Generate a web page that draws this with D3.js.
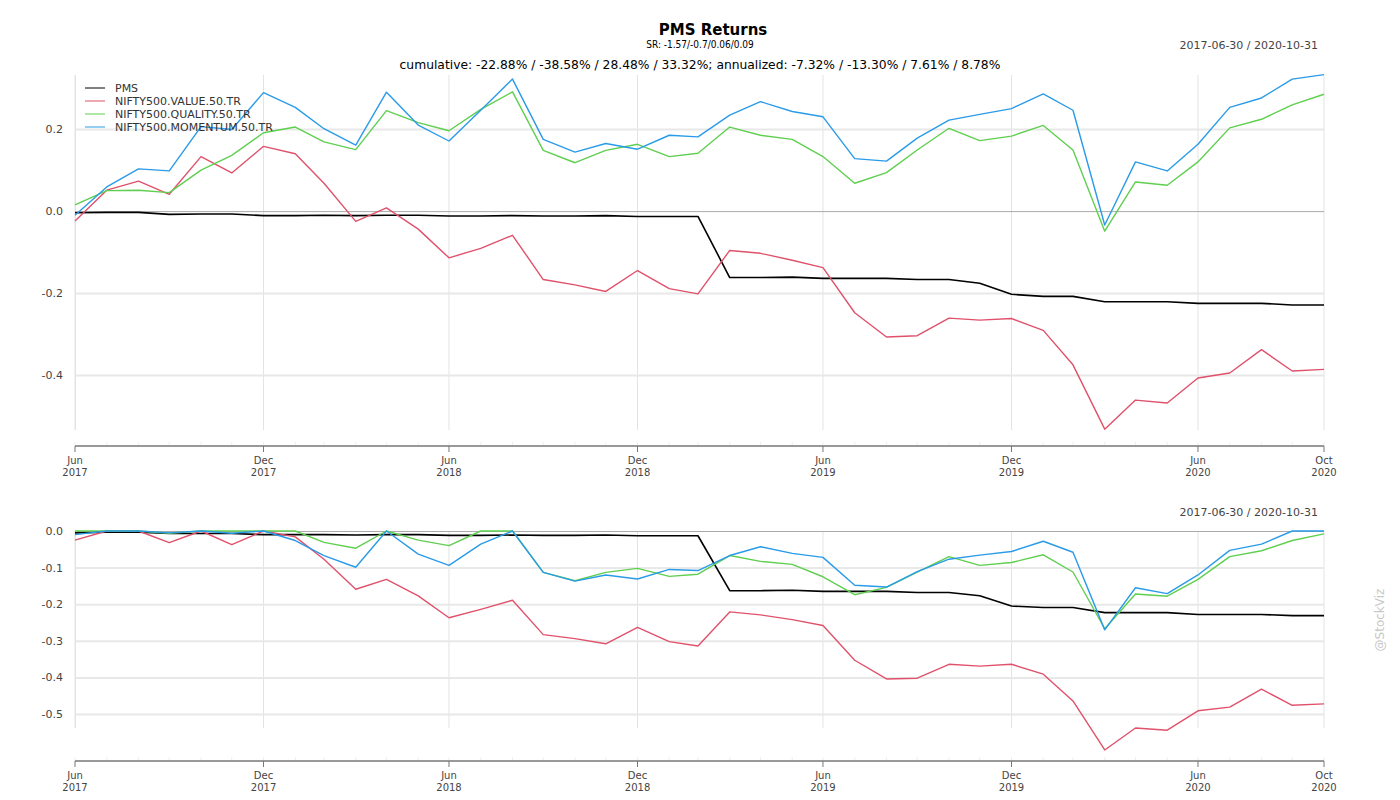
<!DOCTYPE html>
<html>
<head>
<meta charset="utf-8">
<script src="https://cdn.jsdelivr.net/npm/d3@7"></script>
<style>
  body { margin: 0; background: #fff; }
  text { font-family: "DejaVu Sans", sans-serif; }
</style>
</head>
<body>
<div id="chart"></div>
<script>
// month-end observation dates
const dates = [
  "2017-06-30", "2017-07-31", "2017-08-31", "2017-09-30", "2017-10-31", "2017-11-30", "2017-12-31",
  "2018-01-31", "2018-02-28", "2018-03-31", "2018-04-30", "2018-05-31", "2018-06-30", "2018-07-31",
  "2018-08-31", "2018-09-30", "2018-10-31", "2018-11-30", "2018-12-31", "2019-01-31", "2019-02-28",
  "2019-03-31", "2019-04-30", "2019-05-31", "2019-06-30", "2019-07-31", "2019-08-31", "2019-09-30",
  "2019-10-31", "2019-11-30", "2019-12-31", "2020-01-31", "2020-02-29", "2020-03-31", "2020-04-30",
  "2020-05-31", "2020-06-30", "2020-07-31", "2020-08-31", "2020-09-30", "2020-10-31"
];
const seriesNames = ["PMS", "NIFTY500.VALUE.50.TR", "NIFTY500.QUALITY.50.TR", "NIFTY500.MOMENTUM.50.TR"];
const seriesColors = ["#000000", "#e0516b", "#5fcf4f", "#2a9be8"];

// cumulative returns (top panel)
const pmsCum = [-0.004, -0.003, -0.003, -0.008, -0.007, -0.007, -0.011, -0.011, -0.01, -0.011, -0.01, -0.01, -0.012, -0.012, -0.011, -0.012, -0.012, -0.011, -0.013, -0.013, -0.013,
  -0.162, -0.162, -0.161, -0.164, -0.164, -0.164, -0.167, -0.167, -0.176, -0.203, -0.208, -0.208, -0.221, -0.221, -0.221, -0.225, -0.225, -0.225, -0.229, -0.229];
const valueCum = [-0.024, 0.051, 0.073, 0.041, 0.133, 0.093, 0.158, 0.14, 0.068, -0.025, 0.008, -0.044, -0.114, -0.091, -0.059, -0.167, -0.18, -0.196, -0.145, -0.189, -0.202,
  -0.096, -0.103, -0.12, -0.138, -0.248, -0.307, -0.304, -0.261, -0.266, -0.262, -0.291, -0.375, -0.532, -0.461, -0.468, -0.407, -0.395, -0.338, -0.39, -0.386];
const qualityCum = [0.015, 0.05, 0.051, 0.045, 0.1, 0.136, 0.191, 0.205, 0.169, 0.15, 0.245, 0.216, 0.196, 0.248, 0.291, 0.148, 0.118, 0.148, 0.163, 0.133, 0.141,
  0.205, 0.185, 0.175, 0.133, 0.068, 0.094, 0.149, 0.202, 0.172, 0.183, 0.209, 0.149, -0.049, 0.071, 0.063, 0.12, 0.203, 0.224, 0.259, 0.285];
const momentumCum = [-0.01, 0.059, 0.103, 0.098, 0.206, 0.199, 0.289, 0.253, 0.201, 0.161, 0.29, 0.21, 0.171, 0.246, 0.322, 0.175, 0.144, 0.165, 0.151, 0.185, 0.181,
  0.234, 0.267, 0.243, 0.23, 0.128, 0.122, 0.178, 0.222, 0.236, 0.25, 0.286, 0.246, -0.034, 0.12, 0.098, 0.163, 0.253, 0.276, 0.322, 0.333];

// drawdowns (bottom panel)
const pmsDD = [-0.005, -0.003, -0.003, -0.007, -0.007, -0.007, -0.01, -0.01, -0.01, -0.011, -0.01, -0.01, -0.012, -0.012, -0.011, -0.012, -0.012, -0.011, -0.013, -0.013, -0.013,
  -0.163, -0.163, -0.162, -0.165, -0.165, -0.165, -0.168, -0.168, -0.177, -0.205, -0.209, -0.209, -0.223, -0.223, -0.223, -0.228, -0.228, -0.228, -0.231, -0.231];
const valueDD = [-0.025, 0, 0, -0.032, 0, -0.037, 0, -0.016, -0.077, -0.159, -0.132, -0.177, -0.237, -0.214, -0.189, -0.283, -0.294, -0.308, -0.263, -0.302, -0.314,
  -0.221, -0.229, -0.242, -0.258, -0.353, -0.404, -0.402, -0.364, -0.369, -0.364, -0.391, -0.464, -0.598, -0.538, -0.544, -0.491, -0.481, -0.432, -0.476, -0.472];
const qualityDD = [0, 0, 0, -0.006, 0, 0, 0, 0, -0.031, -0.047, 0, -0.025, -0.04, 0, 0, -0.113, -0.136, -0.113, -0.102, -0.124, -0.118,
  -0.067, -0.083, -0.091, -0.125, -0.174, -0.154, -0.112, -0.07, -0.094, -0.086, -0.065, -0.112, -0.267, -0.172, -0.178, -0.132, -0.07, -0.054, -0.026, -0.008];
const momentumDD = [-0.01, 0, 0, -0.005, 0, -0.006, 0, -0.026, -0.067, -0.099, 0, -0.063, -0.094, -0.036, 0, -0.113, -0.137, -0.12, -0.131, -0.105, -0.108,
  -0.067, -0.043, -0.061, -0.072, -0.148, -0.153, -0.111, -0.077, -0.066, -0.056, -0.028, -0.058, -0.27, -0.155, -0.171, -0.12, -0.053, -0.036, 0, 0];

// axis labels
const majorTicks = ["2017-06-30", "2017-12-31", "2018-06-30", "2018-12-31", "2019-06-30", "2019-12-31", "2020-06-30", "2020-10-31"];
const topYTicks = [0.2, 0.0, -0.2, -0.4];
const bottomYTicks = [0.0, -0.1, -0.2, -0.3, -0.4, -0.5];

const title = "PMS Returns";
const subtitle = "SR: -1.57/-0.7/0.06/0.09";
const statsLine = "cumulative: -22.88% / -38.58% / 28.48% / 33.32%; annualized: -7.32% / -13.30% / 7.61% / 8.78%";
const rangeLabel = "2017-06-30 / 2020-10-31";

const W = 1400, H = 800, left = 75, right = 1324;
const parse = d3.timeParse("%Y-%m-%d");
const xDates = dates.map(parse);

const svg = d3.select("#chart").append("svg")
  .attr("width", W).attr("height", H);

const x = d3.scaleTime()
  .domain([parse("2017-06-30"), parse("2020-10-31")])
  .range([left, right]);

const fmtY = v => v.toFixed(1);
const fmtMonth = d3.timeFormat("%b");
const fmtYear = d3.timeFormat("%Y");

function drawPanel(opts) {
  const y = d3.scaleLinear().domain(opts.domain).range([opts.bottom, opts.top]);
  const g = svg.append("g");

  // vertical grid
  g.selectAll(".vgrid")
    .data(majorTicks.map(parse))
    .enter().append("line")
    .attr("x1", d => x(d)).attr("x2", d => x(d))
    .attr("y1", opts.gridTop).attr("y2", opts.bottom)
    .attr("stroke", "#e3e3e3").attr("stroke-width", 1);

  // y axis with horizontal grid
  const yAxis = d3.axisLeft(y)
    .tickValues(opts.yTicks)
    .tickFormat(fmtY)
    .tickSize(-(right - left))
    .tickPadding(12);
  const ya = g.append("g")
    .attr("transform", `translate(${left},0)`)
    .call(yAxis);
  ya.select(".domain").attr("stroke", "#e3e3e3").attr("d", `M0.5,${opts.gridTop}V${opts.bottom}`);
  ya.selectAll(".tick line")
    .attr("stroke", d => d === 0 ? "#aaaaaa" : "#e8e8e8")
    .attr("stroke-width", d => d === 0 ? 1 : 2);
  ya.selectAll(".tick text")
    .attr("fill", "#444").style("font-size", "11px");

  // series lines
  const line = d3.line().x((d, i) => x(xDates[i])).y(d => y(d));
  opts.series.forEach((s, k) => {
    g.append("path")
      .datum(s)
      .attr("d", line)
      .attr("fill", "none")
      .attr("stroke", seriesColors[k])
      .attr("stroke-width", k === 0 ? 1.6 : 1.4)
      .attr("stroke-linejoin", "round");
  });

  // date range label
  g.append("text")
    .attr("x", 1318).attr("y", opts.rangeY)
    .attr("text-anchor", "end")
    .attr("fill", "#444")
    .style("font-size", "11px")
    .text(rangeLabel);

  // navigator-style x axis
  const ax = g.append("g").attr("transform", `translate(0,${opts.axisY})`);
  ax.selectAll(".minor")
    .data(xDates)
    .enter().append("line")
    .attr("x1", d => x(d)).attr("x2", d => x(d))
    .attr("y1", -4).attr("y2", 0)
    .attr("stroke", "#eeeeee");
  ax.append("line")
    .attr("x1", left).attr("x2", right)
    .attr("y1", 0).attr("y2", 0)
    .attr("stroke", "#999").attr("stroke-width", 2);
  const major = ax.selectAll(".major")
    .data(majorTicks.map(parse))
    .enter().append("g")
    .attr("transform", d => `translate(${x(d)},0)`);
  major.append("line").attr("y1", 0).attr("y2", 6).attr("stroke", "#777");
  const lbl = major.append("text")
    .attr("text-anchor", "middle")
    .attr("fill", "#444")
    .style("font-size", "10px");
  lbl.append("tspan").attr("x", 0).attr("y", 18).text(d => fmtMonth(d));
  lbl.append("tspan").attr("x", 0).attr("y", 30).text(d => fmtYear(d));
}

drawPanel({
  domain: [-0.534, 0.332], top: 75, bottom: 430, gridTop: 75,
  yTicks: topYTicks, axisY: 446, rangeY: 49,
  series: [pmsCum, valueCum, qualityCum, momentumCum]
});

drawPanel({
  domain: [-0.538, 0], top: 531, bottom: 728, gridTop: 531,
  yTicks: bottomYTicks, axisY: 761, rangeY: 516,
  series: [pmsDD, valueDD, qualityDD, momentumDD]
});

// titles
svg.append("text")
  .attr("x", 713).attr("y", 35)
  .attr("text-anchor", "middle")
  .style("font-size", "15px").style("font-weight", "bold")
  .text(title);
svg.append("text")
  .attr("x", 700).attr("y", 48)
  .attr("text-anchor", "middle")
  .style("font-size", "10px")
  .style("font-family", "'DejaVu Sans Condensed', 'DejaVu Sans', sans-serif")
  .style("font-stretch", "condensed")
  .text(subtitle);
svg.append("text")
  .attr("x", 700).attr("y", 69)
  .attr("text-anchor", "middle")
  .style("font-size", "12.3px")
  .text(statsLine);

// legend
const legend = svg.append("g").attr("transform", "translate(85,88)");
seriesNames.forEach((name, i) => {
  const row = legend.append("g").attr("transform", `translate(0,${i * 13})`);
  row.append("line").attr("x1", 0).attr("x2", 20).attr("y1", 0).attr("y2", 0)
    .attr("stroke", seriesColors[i]).attr("stroke-width", 1);
  row.append("text").attr("x", 30).attr("y", 4)
    .attr("fill", "#333").style("font-size", "11px")
    .text(name);
});

// watermark
svg.append("text")
  .attr("transform", "translate(1384,620) rotate(-90)")
  .attr("text-anchor", "middle")
  .attr("fill", "#c8c8c8")
  .style("font-size", "12px")
  .text("@StockViz");
</script>
</body>
</html>
